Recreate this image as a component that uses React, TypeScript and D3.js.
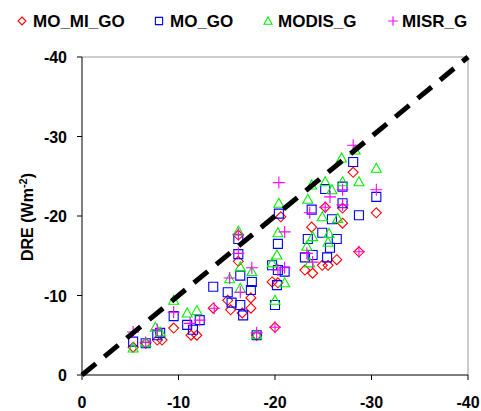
import React from "react";
import * as d3 from "d3";

const xTicks = [0, -10, -20, -30, -40];
const yTicks = [0, -10, -20, -30, -40];

const seriesNames = ["MO_MI_GO", "MO_GO", "MODIS_G", "MISR_G"];
const seriesColors = ["#ff0000", "#0000ff", "#00f000", "#ff00ff"];

const moMiGo: [number, number][] = [
  [-5.3, -3.5], [-6.6, -4.0], [-7.8, -4.4], [-8.3, -4.4], [-9.5, -5.9], [-11.3, -5.0], [-11.9, -5.0],
  [-13.6, -8.4], [-15.4, -8.2], [-15.1, -9.4], [-16.2, -17.6], [-16.2, -14.3], [-16.6, -7.8],
  [-17.5, -9.7], [-17.5, -8.4], [-18.1, -5.0], [-19.7, -11.7], [-20.3, -11.6], [-20.0, -6.0],
  [-20.6, -19.9], [-23.1, -13.2], [-23.9, -12.8], [-23.8, -18.6], [-24.9, -13.8], [-25.2, -21.1],
  [-25.5, -13.8], [-26.4, -14.5], [-27.0, -19.1], [-27.0, -21.0], [-28.1, -25.5], [-30.5, -20.4],
  [-28.7, -15.5],
];

const moGo: [number, number][] = [
  [-5.3, -4.2], [-6.6, -4.0], [-7.8, -5.0], [-8.1, -5.3], [-9.5, -7.4], [-10.9, -6.3], [-11.5, -5.7],
  [-12.2, -6.9], [-13.6, -11.1], [-15.1, -10.4], [-15.5, -9.1], [-16.2, -17.1], [-16.2, -15.2],
  [-16.4, -12.5], [-16.4, -8.8], [-16.7, -7.5], [-17.6, -11.7], [-17.5, -10.7], [-18.1, -5.0],
  [-19.7, -13.8], [-20.0, -8.8], [-20.3, -13.2], [-20.2, -11.3], [-20.3, -16.5], [-20.4, -20.3],
  [-21.0, -13.0], [-23.1, -14.8], [-23.4, -17.1], [-23.8, -20.8], [-23.9, -15.1], [-24.9, -17.9],
  [-25.2, -23.4], [-25.4, -14.8], [-25.7, -16.0], [-25.9, -19.6], [-26.4, -17.1], [-27.0, -23.7],
  [-27.0, -21.6], [-28.1, -26.8], [-28.7, -20.1], [-30.5, -22.4],
];

const modisG: [number, number][] = [
  [-5.3, -3.4], [-6.6, -4.1], [-7.6, -6.0], [-8.1, -5.4], [-9.5, -9.4], [-10.9, -7.8], [-11.9, -8.1],
  [-15.3, -12.1], [-16.2, -18.1], [-16.4, -13.6], [-16.4, -10.9], [-17.6, -13.0], [-18.1, -5.1],
  [-19.7, -14.1], [-20.0, -9.4], [-20.2, -15.1], [-20.3, -17.9], [-20.4, -21.6], [-21.0, -11.6],
  [-23.3, -16.2], [-23.4, -22.1], [-23.6, -14.1], [-23.8, -23.9], [-23.9, -17.4], [-24.9, -19.9],
  [-25.2, -24.3], [-25.5, -16.7], [-25.6, -17.8], [-25.9, -23.3], [-26.5, -19.7], [-26.9, -27.3],
  [-27.0, -24.3], [-28.3, -28.3], [-28.7, -24.3], [-30.5, -26.0],
];

const misrG: [number, number][] = [
  [-5.3, -5.4], [-6.6, -4.1], [-7.8, -5.7], [-9.5, -7.9], [-11.2, -6.5], [-12.2, -6.9], [-13.7, -8.4],
  [-15.3, -12.2], [-16.2, -17.7], [-16.2, -15.3], [-16.4, -10.4], [-17.6, -13.5], [-18.1, -5.3],
  [-20.0, -6.0], [-20.3, -13.2], [-20.4, -24.2], [-21.0, -13.5], [-21.0, -18.0], [-23.3, -15.3],
  [-23.6, -20.4], [-23.9, -14.2], [-25.2, -21.1], [-25.7, -22.4], [-27.0, -23.3], [-27.0, -21.4],
  [-28.1, -28.9], [-28.7, -15.5], [-30.5, -23.3],
];

const allSeries = [moMiGo, moGo, modisG, misrG];
const oneToOne = [0, -40];

function markerPath(kind: number, s: number): string {
  if (kind === 0) return `M0,${-s}L${s},0L0,${s}L${-s},0Z`;
  if (kind === 1) { const h = s * 0.9; return `M${-h},${-h}H${h}V${h}H${-h}Z`; }
  if (kind === 2) return `M0,${-s}L${s},${s * 0.8}L${-s},${s * 0.8}Z`;
  const p = s * 1.2;
  return `M${-p},0H${p}M0,${-p}V${p}`;
}

export default function App() {
  const W = 481, H = 411;
  const x = d3.scaleLinear().domain([0, -40]).range([82, 468]);
  const y = d3.scaleLinear().domain([0, -40]).range([375, 57]);
  const font = "'Liberation Sans', Arial, sans-serif";
  const legendX = [22, 159, 268, 393];
  const legendTextX = [33, 170, 278, 402];

  return (
    <svg width={W} height={H} style={{ position: "absolute", left: 0, top: 0, background: "#fff" }}
      fontFamily={font}>
      <rect x={0} y={0} width={W} height={H} fill="#fff" />
      {/* frame */}
      <line x1={x(0)} x2={x(-40)} y1={y(-40)} y2={y(-40)} stroke="#999" strokeWidth={1} />
      <line x1={x(-40)} x2={x(-40)} y1={y(-40)} y2={y(0)} stroke="#999" strokeWidth={1} />
      <line x1={x(0)} x2={x(0)} y1={y(-40)} y2={y(0)} stroke="#000" strokeWidth={1} />
      <line x1={x(0)} x2={x(-40)} y1={y(0)} y2={y(0)} stroke="#000" strokeWidth={1} />
      {yTicks.map((t) => (
        <g key={"y" + t}>
          <line x1={x(0) - 5} x2={x(0)} y1={y(t)} y2={y(t)} stroke="#000" />
          <text x={67} y={y(t) + 6} textAnchor="end" fontSize={16} fontWeight="bold">{t}</text>
        </g>
      ))}
      {xTicks.map((t) => (
        <g key={"x" + t}>
          <line x1={x(t)} x2={x(t)} y1={y(0)} y2={y(0) + 5} stroke="#000" />
          <text x={x(t)} y={408} textAnchor="middle" fontSize={16} fontWeight="bold">{t}</text>
        </g>
      ))}
      <text transform={`translate(33,${217}) rotate(-90)`} textAnchor="middle" fontSize={16} fontWeight="bold">
        DRE (Wm<tspan dy={-6} fontSize={11}>-2</tspan><tspan dy={6}>)</tspan>
      </text>
      {/* markers */}
      {allSeries.map((data, si) => (
        <g key={si} stroke={seriesColors[si]} fill="none" strokeWidth={1.1}>
          {data.map((d, i) => (
            <path key={i} d={markerPath(si, 5)} transform={`translate(${x(d[0])},${y(d[1])})`} />
          ))}
        </g>
      ))}
      {/* 1:1 line */}
      <line x1={x(oneToOne[0])} y1={y(oneToOne[0])} x2={x(oneToOne[1])} y2={y(oneToOne[1])}
        stroke="#000" strokeWidth={5} strokeDasharray="18,11" />
      {/* legend */}
      {seriesNames.map((n, i) => (
        <g key={n}>
          <path d={markerPath(i, 4)} transform={`translate(${legendX[i]},21)`} stroke={seriesColors[i]}
            fill="none" strokeWidth={1.1} />
          <text x={legendTextX[i]} y={27} fontSize={17} fontWeight="bold">{n}</text>
        </g>
      ))}
    </svg>
  );
}
